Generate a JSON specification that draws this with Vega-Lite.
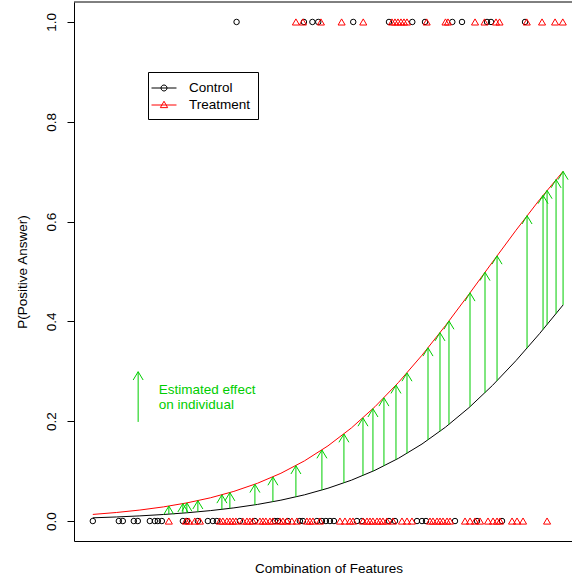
{
  "$schema": "https://vega.github.io/schema/vega-lite/v6.json",
  "width": 498,
  "height": 539,
  "autosize": {"type": "none"},
  "padding": {"left": 74, "top": 2, "right": 0, "bottom": 39},
  "background": "white",
  "config": {"view": {"stroke": null}, "font": "Liberation Sans"},
  "datasets": {
    "curves": [
      {"group": "Control", "t": 0, "p": 0.00643}, {"group": "Control", "t": 0.05, "p": 0.00815}, {"group": "Control", "t": 0.1, "p": 0.01032},
      {"group": "Control", "t": 0.15, "p": 0.01307}, {"group": "Control", "t": 0.2, "p": 0.01653}, {"group": "Control", "t": 0.25, "p": 0.02089},
      {"group": "Control", "t": 0.3, "p": 0.02636}, {"group": "Control", "t": 0.35, "p": 0.03323}, {"group": "Control", "t": 0.4, "p": 0.04181},
      {"group": "Control", "t": 0.45, "p": 0.05247}, {"group": "Control", "t": 0.5, "p": 0.0657}, {"group": "Control", "t": 0.55, "p": 0.0819},
      {"group": "Control", "t": 0.6, "p": 0.1017}, {"group": "Control", "t": 0.65, "p": 0.1257}, {"group": "Control", "t": 0.7, "p": 0.1543},
      {"group": "Control", "t": 0.75, "p": 0.1881}, {"group": "Control", "t": 0.8, "p": 0.2272}, {"group": "Control", "t": 0.85, "p": 0.2718},
      {"group": "Control", "t": 0.9, "p": 0.3215}, {"group": "Control", "t": 0.95, "p": 0.3755}, {"group": "Control", "t": 1.0, "p": 0.4329},
      {"group": "Treatment", "t": 0, "p": 0.01325}, {"group": "Treatment", "t": 0.05, "p": 0.01709}, {"group": "Treatment", "t": 0.1, "p": 0.02201},
      {"group": "Treatment", "t": 0.15, "p": 0.0283}, {"group": "Treatment", "t": 0.2, "p": 0.03634}, {"group": "Treatment", "t": 0.25, "p": 0.04653},
      {"group": "Treatment", "t": 0.3, "p": 0.05942}, {"group": "Treatment", "t": 0.35, "p": 0.0756}, {"group": "Treatment", "t": 0.4, "p": 0.0957},
      {"group": "Treatment", "t": 0.45, "p": 0.1205}, {"group": "Treatment", "t": 0.5, "p": 0.1506}, {"group": "Treatment", "t": 0.55, "p": 0.1866},
      {"group": "Treatment", "t": 0.6, "p": 0.229}, {"group": "Treatment", "t": 0.65, "p": 0.2777}, {"group": "Treatment", "t": 0.7, "p": 0.3322},
      {"group": "Treatment", "t": 0.75, "p": 0.3917}, {"group": "Treatment", "t": 0.8, "p": 0.4546}, {"group": "Treatment", "t": 0.85, "p": 0.519},
      {"group": "Treatment", "t": 0.9, "p": 0.5827}, {"group": "Treatment", "t": 0.95, "p": 0.6439}, {"group": "Treatment", "t": 1.0, "p": 0.7006}
    ],
    "arrows": [
      {"t": 0.1617, "c": 0.0138, "p": 0.03}, {"t": 0.1915, "c": 0.0159, "p": 0.0348}, {"t": 0.2, "c": 0.0165, "p": 0.0363},
      {"t": 0.2234, "c": 0.0185, "p": 0.0408}, {"t": 0.2745, "c": 0.0234, "p": 0.0525}, {"t": 0.2915, "c": 0.0254, "p": 0.057},
      {"t": 0.3447, "c": 0.0324, "p": 0.0737}, {"t": 0.383, "c": 0.0387, "p": 0.0883}, {"t": 0.4319, "c": 0.0484, "p": 0.1109},
      {"t": 0.4872, "c": 0.062, "p": 0.1423}, {"t": 0.534, "c": 0.0763, "p": 0.1744}, {"t": 0.5745, "c": 0.0912, "p": 0.2066},
      {"t": 0.5957, "c": 0.0999, "p": 0.2251}, {"t": 0.6191, "c": 0.1104, "p": 0.2469}, {"t": 0.6447, "c": 0.123, "p": 0.2723},
      {"t": 0.6681, "c": 0.1355, "p": 0.2968}, {"t": 0.7128, "c": 0.1625, "p": 0.3471}, {"t": 0.7383, "c": 0.1797, "p": 0.3775},
      {"t": 0.7574, "c": 0.1935, "p": 0.4009}, {"t": 0.8021, "c": 0.229, "p": 0.4573}, {"t": 0.834, "c": 0.257, "p": 0.4984},
      {"t": 0.8596, "c": 0.281, "p": 0.5313}, {"t": 0.9234, "c": 0.3463, "p": 0.6118}, {"t": 0.9574, "c": 0.3839, "p": 0.6525},
      {"t": 0.966, "c": 0.3936, "p": 0.6625}, {"t": 0.9851, "c": 0.4155, "p": 0.6842}, {"t": 1.0, "c": 0.4329, "p": 0.7006},
      {"t": 0.0964, "c": 0.1986, "p": 0.2992}
    ],
    "notes": [
      {"t": 0.1404, "p": 0.2545, "label": "Estimated effect"},
      {"t": 0.1404, "p": 0.2238, "label": "on individual"}
    ],
    "pts": [
      {"group": "Control", "t": 0.3057, "p": 1}, {"group": "Control", "t": 0.4489, "p": 1}, {"group": "Control", "t": 0.467, "p": 1},
      {"group": "Control", "t": 0.4794, "p": 1}, {"group": "Control", "t": 0.5538, "p": 1}, {"group": "Control", "t": 0.6298, "p": 1},
      {"group": "Control", "t": 0.6794, "p": 1}, {"group": "Control", "t": 0.7064, "p": 1}, {"group": "Control", "t": 0.7645, "p": 1},
      {"group": "Control", "t": 0.7851, "p": 1}, {"group": "Control", "t": 0.8383, "p": 1}, {"group": "Control", "t": 0.8468, "p": 1},
      {"group": "Control", "t": 0.9191, "p": 1},
      {"group": "Treatment", "t": 0.4319, "p": 1}, {"group": "Treatment", "t": 0.4468, "p": 1}, {"group": "Treatment", "t": 0.4851, "p": 1},
      {"group": "Treatment", "t": 0.5291, "p": 1}, {"group": "Treatment", "t": 0.5751, "p": 1}, {"group": "Treatment", "t": 0.6362, "p": 1},
      {"group": "Treatment", "t": 0.6426, "p": 1}, {"group": "Treatment", "t": 0.6489, "p": 1}, {"group": "Treatment", "t": 0.6553, "p": 1},
      {"group": "Treatment", "t": 0.6617, "p": 1}, {"group": "Treatment", "t": 0.6681, "p": 1}, {"group": "Treatment", "t": 0.71, "p": 1},
      {"group": "Treatment", "t": 0.75, "p": 1}, {"group": "Treatment", "t": 0.7553, "p": 1}, {"group": "Treatment", "t": 0.8128, "p": 1},
      {"group": "Treatment", "t": 0.833, "p": 1}, {"group": "Treatment", "t": 0.8574, "p": 1}, {"group": "Treatment", "t": 0.8649, "p": 1},
      {"group": "Treatment", "t": 0.9228, "p": 1}, {"group": "Treatment", "t": 0.9553, "p": 1}, {"group": "Treatment", "t": 0.983, "p": 1},
      {"group": "Treatment", "t": 0.9994, "p": 1},
      {"group": "Control", "t": 0, "p": 0}, {"group": "Control", "t": 0.0553, "p": 0}, {"group": "Control", "t": 0.0638, "p": 0},
      {"group": "Control", "t": 0.0872, "p": 0}, {"group": "Control", "t": 0.0957, "p": 0}, {"group": "Control", "t": 0.1213, "p": 0},
      {"group": "Control", "t": 0.1319, "p": 0}, {"group": "Control", "t": 0.1383, "p": 0}, {"group": "Control", "t": 0.1468, "p": 0},
      {"group": "Control", "t": 0.1915, "p": 0}, {"group": "Control", "t": 0.2, "p": 0}, {"group": "Control", "t": 0.2234, "p": 0},
      {"group": "Control", "t": 0.2447, "p": 0}, {"group": "Control", "t": 0.2553, "p": 0}, {"group": "Control", "t": 0.2638, "p": 0},
      {"group": "Control", "t": 0.3128, "p": 0}, {"group": "Control", "t": 0.3447, "p": 0}, {"group": "Control", "t": 0.3872, "p": 0},
      {"group": "Control", "t": 0.3936, "p": 0}, {"group": "Control", "t": 0.4149, "p": 0}, {"group": "Control", "t": 0.4404, "p": 0},
      {"group": "Control", "t": 0.4468, "p": 0}, {"group": "Control", "t": 0.4766, "p": 0}, {"group": "Control", "t": 0.4872, "p": 0},
      {"group": "Control", "t": 0.4957, "p": 0}, {"group": "Control", "t": 0.5043, "p": 0}, {"group": "Control", "t": 0.5128, "p": 0},
      {"group": "Control", "t": 0.5617, "p": 0}, {"group": "Control", "t": 0.5723, "p": 0}, {"group": "Control", "t": 0.6298, "p": 0},
      {"group": "Control", "t": 0.6426, "p": 0}, {"group": "Control", "t": 0.6894, "p": 0}, {"group": "Control", "t": 0.7, "p": 0},
      {"group": "Control", "t": 0.7085, "p": 0}, {"group": "Control", "t": 0.7702, "p": 0}, {"group": "Control", "t": 0.817, "p": 0},
      {"group": "Control", "t": 0.8702, "p": 0},
      {"group": "Treatment", "t": 0.1617, "p": 0}, {"group": "Treatment", "t": 0.1979, "p": 0}, {"group": "Treatment", "t": 0.2043, "p": 0},
      {"group": "Treatment", "t": 0.217, "p": 0}, {"group": "Treatment", "t": 0.2277, "p": 0}, {"group": "Treatment", "t": 0.2702, "p": 0},
      {"group": "Treatment", "t": 0.2766, "p": 0}, {"group": "Treatment", "t": 0.2851, "p": 0}, {"group": "Treatment", "t": 0.2915, "p": 0},
      {"group": "Treatment", "t": 0.2979, "p": 0}, {"group": "Treatment", "t": 0.3043, "p": 0}, {"group": "Treatment", "t": 0.3191, "p": 0},
      {"group": "Treatment", "t": 0.3277, "p": 0}, {"group": "Treatment", "t": 0.334, "p": 0}, {"group": "Treatment", "t": 0.3404, "p": 0},
      {"group": "Treatment", "t": 0.3553, "p": 0}, {"group": "Treatment", "t": 0.3617, "p": 0}, {"group": "Treatment", "t": 0.3681, "p": 0},
      {"group": "Treatment", "t": 0.3766, "p": 0}, {"group": "Treatment", "t": 0.383, "p": 0}, {"group": "Treatment", "t": 0.3979, "p": 0},
      {"group": "Treatment", "t": 0.4043, "p": 0}, {"group": "Treatment", "t": 0.4128, "p": 0}, {"group": "Treatment", "t": 0.4234, "p": 0},
      {"group": "Treatment", "t": 0.434, "p": 0}, {"group": "Treatment", "t": 0.4553, "p": 0}, {"group": "Treatment", "t": 0.4617, "p": 0},
      {"group": "Treatment", "t": 0.4681, "p": 0}, {"group": "Treatment", "t": 0.483, "p": 0}, {"group": "Treatment", "t": 0.5255, "p": 0},
      {"group": "Treatment", "t": 0.5362, "p": 0}, {"group": "Treatment", "t": 0.5468, "p": 0}, {"group": "Treatment", "t": 0.5532, "p": 0},
      {"group": "Treatment", "t": 0.5745, "p": 0}, {"group": "Treatment", "t": 0.583, "p": 0}, {"group": "Treatment", "t": 0.5894, "p": 0},
      {"group": "Treatment", "t": 0.5957, "p": 0}, {"group": "Treatment", "t": 0.6043, "p": 0}, {"group": "Treatment", "t": 0.6106, "p": 0},
      {"group": "Treatment", "t": 0.617, "p": 0}, {"group": "Treatment", "t": 0.6255, "p": 0}, {"group": "Treatment", "t": 0.6383, "p": 0},
      {"group": "Treatment", "t": 0.6574, "p": 0}, {"group": "Treatment", "t": 0.6681, "p": 0}, {"group": "Treatment", "t": 0.6787, "p": 0},
      {"group": "Treatment", "t": 0.717, "p": 0}, {"group": "Treatment", "t": 0.7234, "p": 0}, {"group": "Treatment", "t": 0.7319, "p": 0},
      {"group": "Treatment", "t": 0.7383, "p": 0}, {"group": "Treatment", "t": 0.7447, "p": 0}, {"group": "Treatment", "t": 0.7532, "p": 0},
      {"group": "Treatment", "t": 0.7596, "p": 0}, {"group": "Treatment", "t": 0.7915, "p": 0}, {"group": "Treatment", "t": 0.8021, "p": 0},
      {"group": "Treatment", "t": 0.8128, "p": 0}, {"group": "Treatment", "t": 0.8234, "p": 0}, {"group": "Treatment", "t": 0.8404, "p": 0},
      {"group": "Treatment", "t": 0.8511, "p": 0}, {"group": "Treatment", "t": 0.8596, "p": 0}, {"group": "Treatment", "t": 0.866, "p": 0},
      {"group": "Treatment", "t": 0.8915, "p": 0}, {"group": "Treatment", "t": 0.9021, "p": 0}, {"group": "Treatment", "t": 0.9149, "p": 0},
      {"group": "Treatment", "t": 0.966, "p": 0}
    ],
    "frame": [{"t": -0.04, "t2": 1.019, "p": 1.04}]
  },
  "encoding": {
    "x": {"field": "t", "type": "quantitative", "scale": {"domain": [-0.04, 1.019], "nice": false, "zero": false},
      "axis": {"title": "Combination of Features", "ticks": false, "labels": false, "grid": false, "domain": true,
        "domainColor": "black", "domainWidth": 1, "titleFont": "Liberation Sans", "titleFontSize": 13.5,
        "titleFontWeight": "normal", "titleColor": "black", "titleX": 254.5, "titleY": 31,
        "titleAlign": "center", "titleBaseline": "alphabetic"}},
    "y": {"field": "p", "type": "quantitative", "scale": {"domain": [-0.04, 1.04], "nice": false, "zero": false},
      "axis": {"title": "P(Positive Answer)", "values": [0, 0.2, 0.4, 0.6, 0.8, 1], "format": ".1f", "grid": false,
        "domainColor": "black", "domainWidth": 1, "tickColor": "black", "tickSize": 7, "tickWidth": 1,
        "labelAngle": -90, "labelAlign": "center", "labelBaseline": "alphabetic", "labelPadding": 12,
        "labelFontSize": 13.5, "labelColor": "black", "labelFont": "Liberation Sans",
        "labelFlush": false, "labelOverlap": false,
        "titleFont": "Liberation Sans", "titleFontSize": 13.5, "titleFontWeight": "normal", "titleColor": "black",
        "titleAngle": -90, "titleX": -48, "titleY": 269.5, "titleAlign": "center", "titleBaseline": "alphabetic"}}
  },
  "layer": [
    {
      "data": {"name": "curves"},
      "mark": {"type": "line", "strokeWidth": 1},
      "encoding": {
        "color": {"field": "group", "type": "nominal",
          "scale": {"domain": ["Control", "Treatment"], "range": ["#000000", "#FF0000"]},
          "legend": {"title": null, "orient": "none", "legendX": 74, "legendY": 70, "direction": "vertical",
            "padding": 7, "strokeColor": "black", "fillColor": "white", "cornerRadius": 0,
            "labelFont": "Liberation Sans", "labelFontSize": 13.5, "labelColor": "black",
            "labelOffset": 16, "symbolOffset": 0, "symbolSize": 289, "symbolStrokeWidth": 1, "rowPadding": 1,
            "symbolType": "circle",
            "encode": {"symbols": {"update": {
              "shape": {"signal": "datum.value === 'Control' ? 'M-1.47,0L1.47,0M0.353,0A0.353,0.353,0,1,1,-0.353,0A0.353,0.353,0,1,1,0.353,0' : 'M-1.47,0L1.47,0M0,-0.44L-0.43,0.31L0.43,0.31Z'"},
              "fill": {"value": "transparent"},
              "stroke": {"scale": "color", "field": "value"},
              "strokeWidth": {"value": 1},
              "opacity": {"value": 1}}}}}}
      }
    },
    {
      "data": {"name": "arrows"},
      "mark": {"type": "rule", "color": "#00CD00", "strokeWidth": 1},
      "encoding": {
        "y2": {"field": "c"}
      }
    },
    {
      "data": {"name": "arrows"},
      "mark": {"type": "point", "shape": "M-1,1.66L0,0L1,1.66", "size": 100, "filled": false, "stroke": "#00CD00", "fill": null, "strokeWidth": 1, "opacity": 1}
    },
    {
      "data": {"name": "pts"},
      "transform": [{"filter": "datum.group === 'Control'"}],
      "mark": {"type": "point", "shape": "circle", "size": 30, "filled": false, "stroke": "#000000", "strokeWidth": 1, "opacity": 1}
    },
    {
      "data": {"name": "pts"},
      "transform": [{"filter": "datum.group === 'Treatment'"}],
      "mark": {"type": "point", "shape": "triangle-up", "size": 50, "filled": false, "stroke": "#FF0000", "strokeWidth": 1, "opacity": 1}
    },
    {
      "data": {"name": "notes"},
      "mark": {"type": "text", "align": "left", "baseline": "alphabetic", "font": "Liberation Sans", "fontSize": 13.5, "color": "#00CD00"},
      "encoding": {
        "text": {"field": "label"}
      }
    },
    {
      "data": {"name": "frame"},
      "mark": {"type": "rule", "color": "black", "strokeWidth": 1},
      "encoding": {
        "x2": {"field": "t2"}
      }
    }
  ]
}
